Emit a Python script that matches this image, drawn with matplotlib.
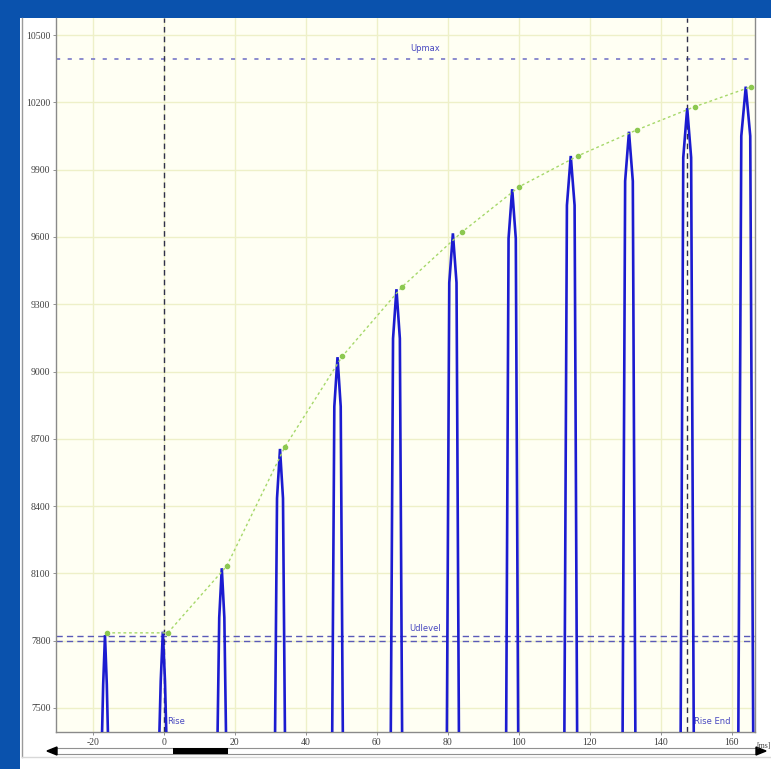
import matplotlib.pyplot as plt
from matplotlib.patches import Rectangle, Polygon

plt.rcParams['axes.unicode_minus'] = False

# pressure pulses (time in ms, peak value)
peak_t = [-16.6, -0.3, 16.3, 32.7, 48.9, 65.5, 81.4, 98.1, 114.6, 131.0, 147.4, 163.9]
peak_p = [7825, 7840, 8123, 8655, 9064, 9367, 9616, 9813, 9961, 10069, 10174, 10270]
pulse_hw = [0.85, 1.0, 1.2, 1.4, 1.5, 1.6, 1.7, 1.7, 1.8, 1.8, 1.85, 2.1]

# green envelope through the peaks
env_t = [-16.1, 1.1, 17.7, 34.1, 50.3, 67.0, 83.9, 100.1, 116.7, 133.2, 149.6, 165.5]
env_p = [7835, 7835, 8133, 8665, 9069, 9376, 9621, 9824, 9962, 10077, 10181, 10270]

upmax = 10395
udlevel = [7820, 7797]
rise_start = 0
rise_end = 147.4

xticks = [-20, 0, 20, 40, 60, 80, 100, 120, 140, 160]
yticks = [7500, 7800, 8100, 8400, 8700, 9000, 9300, 9600, 9900, 10200, 10500]

fig = plt.figure(figsize=(7.71, 7.69), dpi=100)
fig.patch.set_facecolor('#0a52ad')

# background panel in pixel coords
bg = fig.add_axes([0, 0, 1, 1], zorder=0)
bg.set_xlim(0, 771)
bg.set_ylim(769, 0)
bg.axis('off')
bg.add_patch(Rectangle((20, 18), 751, 751, facecolor='white', edgecolor='none'))
bg.plot([22, 22], [18, 757], color='#9a9a9a', lw=1)
bg.plot([22, 771], [757, 757], color='#d8d8d8', lw=1)
# scrollbar
bg.add_patch(Rectangle((56, 748), 701, 6, facecolor='white', edgecolor='#909090', lw=0.8))
bg.add_patch(Rectangle((173, 747.5), 55, 6.5, facecolor='black', edgecolor='none'))
bg.add_patch(Polygon([[47, 751], [57, 747], [57, 755]], closed=True, color='black'))
bg.add_patch(Polygon([[766, 751], [756, 747], [756, 755]], closed=True, color='black'))

ax = fig.add_axes([56 / 771, 1 - 732 / 769, 699 / 771, 714 / 769], zorder=1)
ax.set_facecolor('#fffff3')
ax.set_xlim(-30.4, 166.5)
ax.set_ylim(7393, 10576)

ax.grid(color='#eef0c8', lw=1, zorder=0)
ax.set_xticks(xticks)
ax.set_yticks(yticks)
ax.set_xticklabels([str(v) for v in xticks], fontsize=7, family='Liberation Serif', color='#404040')
ax.set_yticklabels([str(v) for v in yticks], fontsize=7, family='Liberation Serif', color='#404040')
ax.tick_params(length=2.5, width=0.6, color='#808080', pad=1.5)

ax.spines['top'].set_visible(False)
for s in ['left', 'right', 'bottom']:
    ax.spines[s].set_color('#8a8a8a')
    ax.spines[s].set_linewidth(1)

# reference levels
ax.axhline(upmax, color='#7878c8', lw=1.2, ls=(0, (2.5, 4.5)), zorder=2)
for lv in udlevel:
    ax.axhline(lv, color='#5a5ab8', lw=1, ls=(0, (4.5, 3)), zorder=2)
ax.axvline(rise_start, color='#30304a', lw=1, ls=(0, (4, 3)), zorder=2)
ax.axvline(rise_end, color='#30304a', lw=1, ls=(0, (4, 3)), zorder=2)

# pulses: narrow spikes, sides nearly parallel, closing to a sharp tip
base = ax.get_ylim()[0] - 20
for t, p, hw in zip(peak_t, peak_p, pulse_hw):
    xs = [t - hw, t - hw * 0.6, t, t + hw * 0.6, t + hw]
    ys = [base, p - 220, p, p - 220, base]
    ax.plot(xs, ys, color='#1c1cd0', lw=1.9, zorder=3, solid_joinstyle='miter')

ax.plot(env_t, env_p, color='#a6d86a', lw=1, ls=(0, (2, 2)), marker='o', ms=3,
        mfc='#8cc850', mec='#8cc850', zorder=4)

ax.text(69.5, upmax + 25, 'Upmax', fontsize=6, color='#4848c0', ha='left', va='bottom')
ax.text(69.0, udlevel[0] + 15, 'Udlevel', fontsize=6, color='#4848c0', ha='left', va='bottom')
ax.text(rise_start + 1.0, 7442, 'Rise', fontsize=6, color='#4848c0', ha='left', va='center')
ax.text(rise_end + 2.0, 7442, 'Rise End', fontsize=6, color='#4848c0', ha='left', va='center')
ax.text(166.9, 7330, '[ms]', fontsize=5.5, family='Liberation Serif', color='#404040',
        ha='left', va='center', clip_on=False)

fig.savefig('out.png', dpi=100, facecolor=fig.get_facecolor())
